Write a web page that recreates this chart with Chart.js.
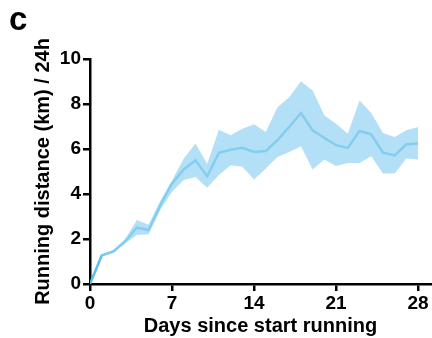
<!DOCTYPE html>
<html>
<head>
<meta charset="utf-8">
<script src="https://cdn.jsdelivr.net/npm/chart.js@4.4.1/dist/chart.umd.min.js"></script>
<style>
  html, body { margin: 0; padding: 0; background: #ffffff; }
  #wrap { position: relative; width: 432px; height: 338px; }
</style>
</head>
<body>
<div id="wrap"><canvas id="chart-running" width="432" height="338"></canvas></div>
<script>
const days = [0, 1, 2, 3, 4, 5, 6, 7, 8, 9, 10, 11, 12, 13, 14, 15, 16, 17, 18, 19, 20, 21, 22, 23, 24, 25, 26, 27, 28]
const meanDistance = [0, 1.27, 1.45, 1.89, 2.51, 2.40, 3.5, 4.47, 5.09, 5.50, 4.79, 5.83, 5.97, 6.05, 5.87, 5.91, 6.39, 6.98, 7.60, 6.83, 6.49, 6.17, 6.05, 6.80, 6.65, 5.84, 5.72, 6.21, 6.24]
const upperDistance = [0, 1.30, 1.50, 2.00, 2.85, 2.63, 3.7, 4.60, 5.58, 6.24, 5.35, 6.86, 6.61, 6.90, 7.10, 6.76, 7.86, 8.30, 9.01, 8.60, 7.49, 7.12, 6.68, 8.16, 7.60, 6.71, 6.53, 6.83, 6.98]
const lowerDistance = [0, 1.25, 1.40, 1.80, 2.18, 2.21, 3.29, 4.10, 4.62, 4.76, 4.28, 4.84, 5.28, 5.21, 4.65, 5.13, 5.65, 5.87, 6.12, 5.09, 5.53, 5.24, 5.38, 5.38, 5.68, 4.91, 4.91, 5.58, 5.53]
const xTicks = [0, 7, 14, 21, 28]
const yTicks = [0, 2, 4, 6, 8, 10]

const toPoints = (values) => values.map((v, i) => ({ x: days[i], y: v }))

const panelLetter = {
    id: 'panelLetter',
    afterDraw(chart) {
        const ctx = chart.ctx
        ctx.save()
        ctx.fillStyle = '#000000'
        ctx.font = 'bold 33px "Liberation Sans", Arial, sans-serif'
        ctx.textBaseline = 'alphabetic'
        ctx.fillText('c', 9, 30)
        ctx.restore()
    }
}

const fontFamily = '"Liberation Sans", Arial, sans-serif'
const lineColor = 'rgb(88, 188, 232)'
const bandColor = 'rgba(150, 212, 242, 0.72)'

const axisStyle = {
    display: true,
    drawOnChartArea: false,
    drawTicks: true,
    tickLength: 7,
    color: '#000000',
    lineWidth: 2.5
}

new Chart(document.getElementById('chart-running').getContext('2d'), {
    type: 'line',
    data: {
        datasets: [
            {
                label: 'upper',
                data: toPoints(upperDistance),
                borderWidth: 0,
                pointRadius: 0,
                backgroundColor: bandColor,
                fill: '+1'
            },
            {
                label: 'lower',
                data: toPoints(lowerDistance),
                borderWidth: 0,
                pointRadius: 0,
                fill: false
            },
            {
                label: 'mean',
                data: toPoints(meanDistance),
                borderColor: lineColor,
                borderWidth: 2.5,
                pointRadius: 0,
                fill: false
            }
        ]
    },
    options: {
        responsive: false,
        animation: false,
        layout: { padding: { top: 59, right: 1, left: 0, bottom: 0 } },
        plugins: {
            legend: { display: false },
            tooltip: { enabled: false }
        },
        scales: {
            x: {
                type: 'linear',
                min: 0,
                max: 29.1,
                afterBuildTicks: (scale) => { scale.ticks = xTicks.map(v => ({ value: v })) },
                afterFit: (scale) => { scale.height = 54 },
                grid: axisStyle,
                border: { display: true, color: '#000000', width: 2.5 },
                ticks: {
                    color: '#000000',
                    padding: 1,
                    maxRotation: 0,
                    font: { family: fontFamily, size: 19, weight: 'bold' }
                },
                title: {
                    display: true,
                    text: 'Days since start running',
                    color: '#000000',
                    padding: { top: 0, bottom: 0 },
                    font: { family: fontFamily, size: 20, weight: 'bold' }
                }
            },
            y: {
                min: 0,
                max: 10,
                afterBuildTicks: (scale) => { scale.ticks = yTicks.map(v => ({ value: v })) },
                afterFit: (scale) => { scale.width = 90 },
                grid: axisStyle,
                border: { display: true, color: '#000000', width: 2.5 },
                ticks: {
                    color: '#000000',
                    padding: 2,
                    font: { family: fontFamily, size: 19, weight: 'bold' }
                },
                title: {
                    display: true,
                    text: 'Running distance (km) / 24h',
                    color: '#000000',
                    padding: { top: 31, bottom: 0 },
                    font: { family: fontFamily, size: 20, weight: 'bold' }
                }
            }
        }
    },
    plugins: [panelLetter]
})
</script>
</body>
</html>
